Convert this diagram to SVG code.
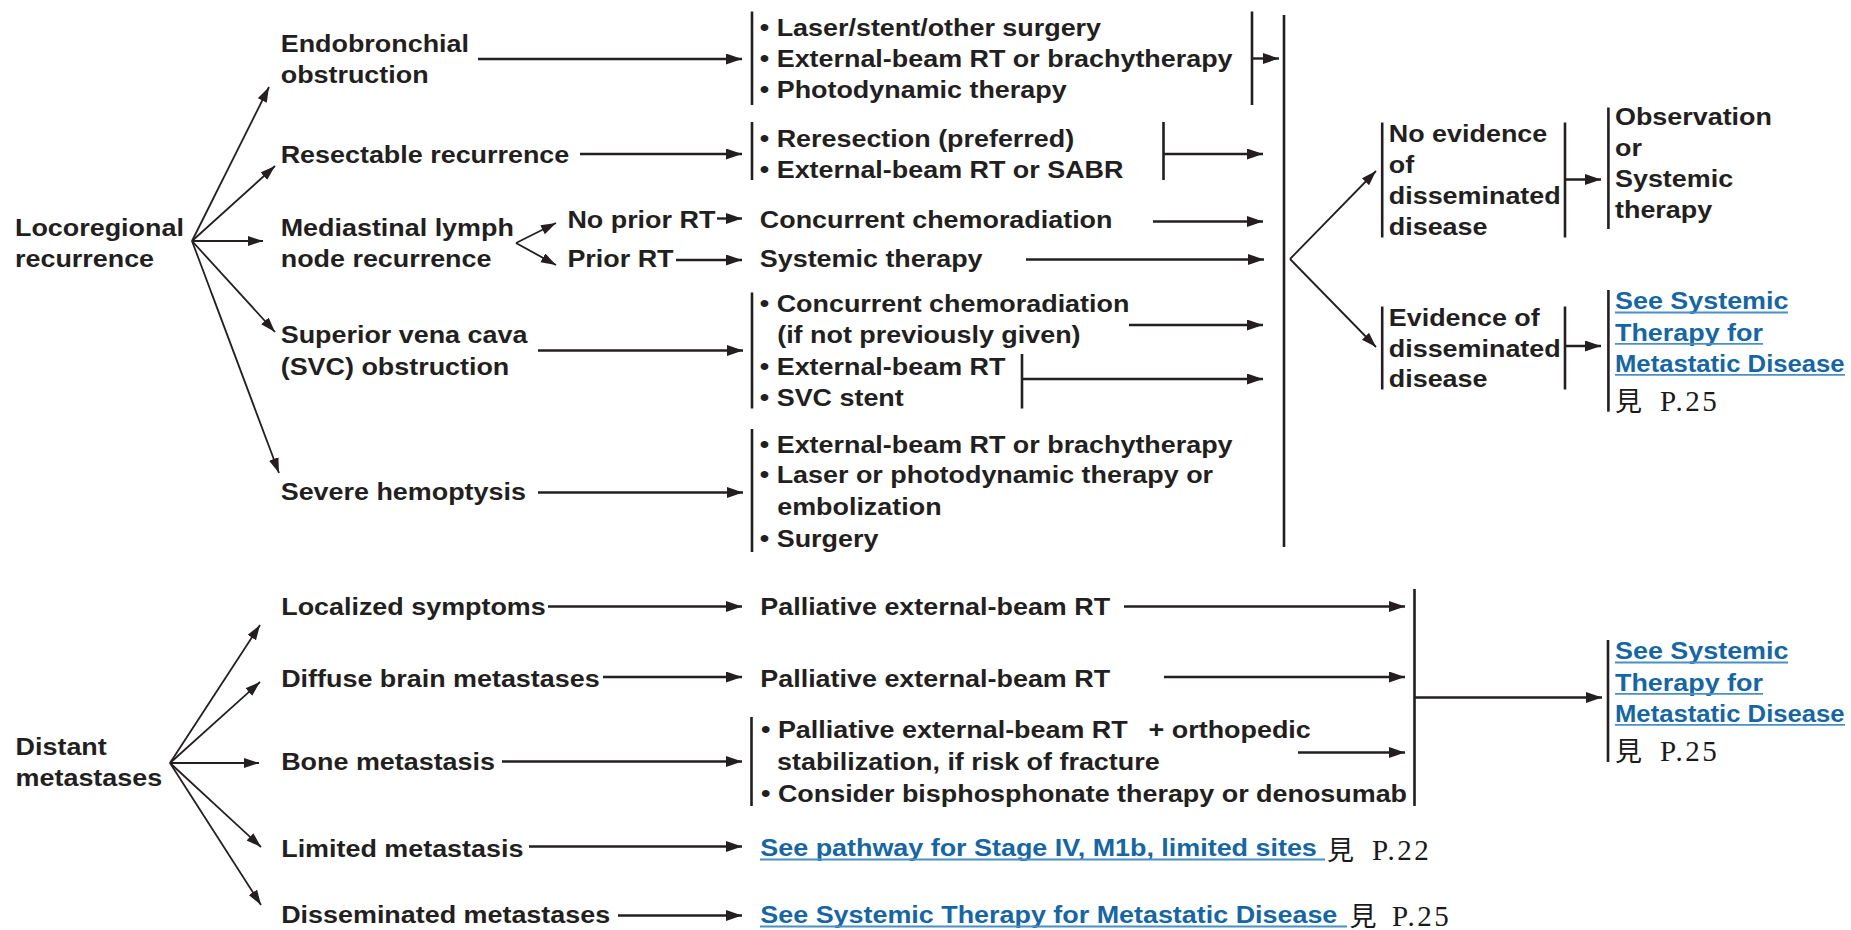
<svg xmlns="http://www.w3.org/2000/svg" width="1851" height="930" viewBox="0 0 1851 930">
<style>
  .t{font-family:"Liberation Sans",Arial,Helvetica,sans-serif;font-weight:700;font-size:23.5px;fill:#231f20}
  .lk{fill:#1566a6}
  .ul{stroke:#4a90c4;stroke-width:1.8}
  .pg{font-family:"Liberation Serif","Noto Sans CJK TC",serif;font-size:29px;fill:#1a1a1a;letter-spacing:2.5px}
  .cjk{font-family:"Noto Sans CJK TC","Noto Sans CJK SC",sans-serif;font-size:27px;letter-spacing:0}
  .ln{stroke:#231f20;stroke-width:2.4;fill:none;marker-end:url(#ah)}
  .fan{stroke:#231f20;stroke-width:1.8;fill:none;marker-end:url(#ahs)}
  .bar{stroke:#231f20;stroke-width:2.6}
</style>
<defs>
  <marker id="ah" markerUnits="userSpaceOnUse" markerWidth="17" markerHeight="12" refX="16" refY="5.5" orient="auto">
    <path d="M0,0 L16,5.5 L0,11 z" fill="#231f20"/>
  </marker>
  <marker id="ahs" markerUnits="userSpaceOnUse" markerWidth="16" markerHeight="11" refX="15" refY="5" orient="auto">
    <path d="M0,0 L15,5 L0,10 z" fill="#231f20"/>
  </marker>
</defs>
<rect width="1851" height="930" fill="#ffffff"/>

<!-- connectors: fans, arrows and collector bars -->
<g id="connectors">
  <!-- locoregional fan -->
  <line class="fan" x1="192" y1="241" x2="269" y2="87"/>
  <line class="fan" x1="192" y1="241" x2="275" y2="166"/>
  <line class="fan" x1="192" y1="241" x2="263" y2="241"/>
  <line class="fan" x1="192" y1="241" x2="275" y2="332"/>
  <line class="fan" x1="192" y1="241" x2="279" y2="473"/>
  <!-- mediastinal split -->
  <line class="fan" x1="516" y1="243" x2="556" y2="223"/>
  <line class="fan" x1="516" y1="243" x2="556" y2="265"/>
  <!-- distant metastases fan -->
  <line class="fan" x1="170" y1="763" x2="260" y2="625"/>
  <line class="fan" x1="170" y1="763" x2="260" y2="682"/>
  <line class="fan" x1="170" y1="763" x2="259" y2="763"/>
  <line class="fan" x1="170" y1="763" x2="261" y2="847"/>
  <line class="fan" x1="170" y1="763" x2="261" y2="905"/>
  <!-- dissemination fan -->
  <line class="fan" x1="1290" y1="259" x2="1376" y2="171"/>
  <line class="fan" x1="1290" y1="259" x2="1376" y2="347"/>

  <!-- locoregional arrows -->
  <line class="ln" x1="478" y1="59" x2="742" y2="59"/>
  <line class="ln" x1="1252" y1="58.5" x2="1279" y2="58.5"/>
  <line class="ln" x1="580" y1="154" x2="742" y2="154"/>
  <line class="ln" x1="1163" y1="154" x2="1263" y2="154"/>
  <line class="ln" x1="717" y1="218.5" x2="742" y2="218.5"/>
  <line class="ln" x1="1153" y1="221.5" x2="1263" y2="221.5"/>
  <line class="ln" x1="676" y1="260" x2="742" y2="260"/>
  <line class="ln" x1="1026" y1="259.5" x2="1264" y2="259.5"/>
  <line class="ln" x1="538" y1="350.5" x2="743" y2="350.5"/>
  <line class="ln" x1="1129" y1="325" x2="1263" y2="325"/>
  <line class="ln" x1="1022" y1="379" x2="1263" y2="379"/>
  <line class="ln" x1="538" y1="492.5" x2="743" y2="492.5"/>
  <line class="ln" x1="1565" y1="179.5" x2="1601" y2="179.5"/>
  <line class="ln" x1="1565" y1="346" x2="1601" y2="346"/>

  <!-- distant metastases arrows -->
  <line class="ln" x1="548" y1="606.5" x2="742" y2="606.5"/>
  <line class="ln" x1="1124" y1="606.5" x2="1405" y2="606.5"/>
  <line class="ln" x1="603" y1="677" x2="742" y2="677"/>
  <line class="ln" x1="1164" y1="677" x2="1405" y2="677"/>
  <line class="ln" x1="502" y1="761.5" x2="742" y2="761.5"/>
  <line class="ln" x1="1298" y1="752.5" x2="1405" y2="752.5"/>
  <line class="ln" x1="1414" y1="697.5" x2="1602" y2="697.5"/>
  <line class="ln" x1="529" y1="846.5" x2="742" y2="846.5"/>
  <line class="ln" x1="618" y1="915.5" x2="742" y2="915.5"/>

  <!-- collector bars -->
  <line class="bar" x1="1252" y1="11.5" x2="1252" y2="105"/>
  <line class="bar" x1="1163.5" y1="122" x2="1163.5" y2="180"/>
  <line class="bar" x1="1022" y1="354" x2="1022" y2="408.5"/>
  <line class="bar" x1="1284" y1="15" x2="1284" y2="547"/>
  <line class="bar" x1="1414.5" y1="589" x2="1414.5" y2="806"/>
</g>

<!-- locoregional branch -->
<g id="locoregional">
  <text class="t" transform="translate(15,235.7) scale(1.145,1)"><tspan x="0">Locoregional</tspan><tspan x="0" dy="31">recurrence</tspan></text>
</g>
<g id="endobronchial">
  <text class="t" transform="translate(280.7,51.5) scale(1.145,1)"><tspan x="0">Endobronchial</tspan><tspan x="0" dy="31.7">obstruction</tspan></text>
</g>
<g id="resectable">
  <text class="t" transform="translate(280.7,163.3) scale(1.145,1)">Resectable recurrence</text>
</g>
<g id="mediastinal">
  <text class="t" transform="translate(280.7,236) scale(1.145,1)"><tspan x="0">Mediastinal lymph</tspan><tspan x="0" dy="30.7">node recurrence</tspan></text>
</g>
<g id="no-prior-rt">
  <text class="t" transform="translate(567.4,228.3) scale(1.145,1)">No prior RT</text>
</g>
<g id="prior-rt">
  <text class="t" transform="translate(567.4,267) scale(1.145,1)">Prior RT</text>
</g>
<g id="svc">
  <text class="t" transform="translate(280.7,343.3) scale(1.145,1)"><tspan x="0">Superior vena cava</tspan><tspan x="0" dy="31.7">(SVC) obstruction</tspan></text>
</g>
<g id="hemoptysis">
  <text class="t" transform="translate(280.7,500) scale(1.145,1)">Severe hemoptysis</text>
</g>

<g id="tx-endobronchial">
  <line class="bar" x1="752" y1="11.5" x2="752" y2="105"/>
  <text class="t" transform="translate(759.8,35.7) scale(1.145,1)"><tspan x="0">• Laser/stent/other surgery</tspan><tspan x="0" dy="31">• External-beam RT or brachytherapy</tspan><tspan x="0" dy="31.3">• Photodynamic therapy</tspan></text>
</g>
<g id="tx-resectable">
  <line class="bar" x1="752" y1="122" x2="752" y2="180"/>
  <text class="t" transform="translate(759.8,146.7) scale(1.145,1)"><tspan x="0">• Reresection (preferred)</tspan><tspan x="0" dy="31">• External-beam RT or SABR</tspan></text>
</g>
<g id="tx-chemoradiation">
  <text class="t" transform="translate(759.8,227.7) scale(1.145,1)">Concurrent chemoradiation</text>
</g>
<g id="tx-systemic">
  <text class="t" transform="translate(759.8,266.7) scale(1.145,1)">Systemic therapy</text>
</g>
<g id="tx-svc">
  <line class="bar" x1="752" y1="292.5" x2="752" y2="408.5"/>
  <text class="t" transform="translate(759.8,312.3) scale(1.145,1)"><tspan x="0">• Concurrent chemoradiation</tspan><tspan x="15.2" dy="31">(if not previously given)</tspan><tspan x="0" dy="31.7">• External-beam RT</tspan><tspan x="0" dy="31">• SVC stent</tspan></text>
</g>
<g id="tx-hemoptysis">
  <line class="bar" x1="752" y1="429" x2="752" y2="552"/>
  <text class="t" transform="translate(759.8,452.7) scale(1.145,1)"><tspan x="0">• External-beam RT or brachytherapy</tspan><tspan x="0" dy="30.6">• Laser or photodynamic therapy or</tspan><tspan x="15.2" dy="31.7">embolization</tspan><tspan x="0" dy="31.7">• Surgery</tspan></text>
</g>

<g id="no-dissemination">
  <line class="bar" x1="1382.2" y1="122.5" x2="1382.2" y2="237.5"/>
  <line class="bar" x1="1565" y1="122.5" x2="1565" y2="237.5"/>
  <text class="t" transform="translate(1388.8,142) scale(1.145,1)"><tspan x="0">No evidence</tspan><tspan x="0" dy="31">of</tspan><tspan x="0" dy="31">disseminated</tspan><tspan x="0" dy="31">disease</tspan></text>
</g>
<g id="observation">
  <line class="bar" x1="1608.4" y1="107.5" x2="1608.4" y2="229"/>
  <text class="t" transform="translate(1615,125) scale(1.145,1)"><tspan x="0">Observation</tspan><tspan x="0" dy="31">or</tspan><tspan x="0" dy="31.3">Systemic</tspan><tspan x="0" dy="31">therapy</tspan></text>
</g>
<g id="dissemination">
  <line class="bar" x1="1382.2" y1="306.5" x2="1382.2" y2="389.5"/>
  <line class="bar" x1="1565" y1="306.5" x2="1565" y2="389.5"/>
  <text class="t" transform="translate(1388.8,326) scale(1.145,1)"><tspan x="0">Evidence of</tspan><tspan x="0" dy="30.7">disseminated</tspan><tspan x="0" dy="30.6">disease</tspan></text>
</g>
<g id="systemic-link-upper">
  <line class="bar" x1="1608.4" y1="290" x2="1608.4" y2="411.7"/>
  <text class="t lk" transform="translate(1615,309.3) scale(1.145,1)">See Systemic</text>
  <text class="t lk" transform="translate(1615,340.7) scale(1.145,1)">Therapy for</text>
  <text class="t lk" transform="translate(1615,371.7) scale(1.12,1)" textLength="205" lengthAdjust="spacingAndGlyphs">Metastatic Disease</text>
  <line class="ul" x1="1615" y1="312.5" x2="1788" y2="312.5"/>
  <line class="ul" x1="1615" y1="343.9" x2="1763" y2="343.9"/>
  <line class="ul" x1="1615" y1="374.9" x2="1845" y2="374.9"/>
  <text class="pg" x="1615" y="411"><tspan class="cjk">見</tspan><tspan x="1660">P.25</tspan></text>
</g>

<!-- distant metastases branch -->
<g id="distant">
  <text class="t" transform="translate(15.6,755) scale(1.145,1)"><tspan x="0">Distant</tspan><tspan x="0" dy="31">metastases</tspan></text>
</g>
<g id="localized">
  <text class="t" transform="translate(281.2,615) scale(1.145,1)">Localized symptoms</text>
</g>
<g id="diffuse-brain">
  <text class="t" transform="translate(281.2,686.7) scale(1.145,1)">Diffuse brain metastases</text>
</g>
<g id="bone">
  <text class="t" transform="translate(281.2,770) scale(1.145,1)">Bone metastasis</text>
</g>
<g id="limited">
  <text class="t" transform="translate(281.2,856.7) scale(1.145,1)">Limited metastasis</text>
</g>
<g id="disseminated">
  <text class="t" transform="translate(281.2,923.3) scale(1.145,1)">Disseminated metastases</text>
</g>

<g id="tx-localized">
  <text class="t" transform="translate(760.3,615) scale(1.145,1)">Palliative external-beam RT</text>
</g>
<g id="tx-brain">
  <text class="t" transform="translate(760.3,686.7) scale(1.145,1)">Palliative external-beam RT</text>
</g>
<g id="tx-bone">
  <line class="bar" x1="751.5" y1="717" x2="751.5" y2="806"/>
  <text class="t" transform="translate(761,738.3) scale(1.145,1)"><tspan x="0">• Palliative external-beam RT</tspan><tspan x="14" dy="31.7">stabilization, if risk of fracture</tspan><tspan x="0" dy="31.7">• Consider bisphosphonate therapy or denosumab</tspan></text>
  <text class="t" transform="translate(1148.6,738.3) scale(1.145,1)">+ orthopedic</text>
</g>
<g id="tx-limited">
  <text class="t lk" transform="translate(760.3,856) scale(1.145,1)">See pathway for Stage IV, M1b, limited sites</text>
  <line class="ul" x1="760" y1="859.5" x2="1325" y2="859.5"/>
  <text class="pg" x="1327" y="859.5"><tspan class="cjk">見</tspan><tspan x="1372">P.22</tspan></text>
</g>
<g id="tx-disseminated">
  <text class="t lk" transform="translate(760.3,923.3) scale(1.145,1)">See Systemic Therapy for Metastatic Disease</text>
  <line class="ul" x1="760" y1="926.5" x2="1347" y2="926.5"/>
  <text class="pg" x="1349.5" y="925.5"><tspan class="cjk">見</tspan><tspan x="1392">P.25</tspan></text>
</g>
<g id="systemic-link-lower">
  <line class="bar" x1="1608" y1="640" x2="1608" y2="762"/>
  <text class="t lk" transform="translate(1615,659.3) scale(1.145,1)">See Systemic</text>
  <text class="t lk" transform="translate(1615,690.7) scale(1.145,1)">Therapy for</text>
  <text class="t lk" transform="translate(1615,721.7) scale(1.12,1)" textLength="205" lengthAdjust="spacingAndGlyphs">Metastatic Disease</text>
  <line class="ul" x1="1615" y1="662.5" x2="1788" y2="662.5"/>
  <line class="ul" x1="1615" y1="693.9" x2="1763" y2="693.9"/>
  <line class="ul" x1="1615" y1="724.9" x2="1845" y2="724.9"/>
  <text class="pg" x="1615" y="761"><tspan class="cjk">見</tspan><tspan x="1660">P.25</tspan></text>
</g>
</svg>
